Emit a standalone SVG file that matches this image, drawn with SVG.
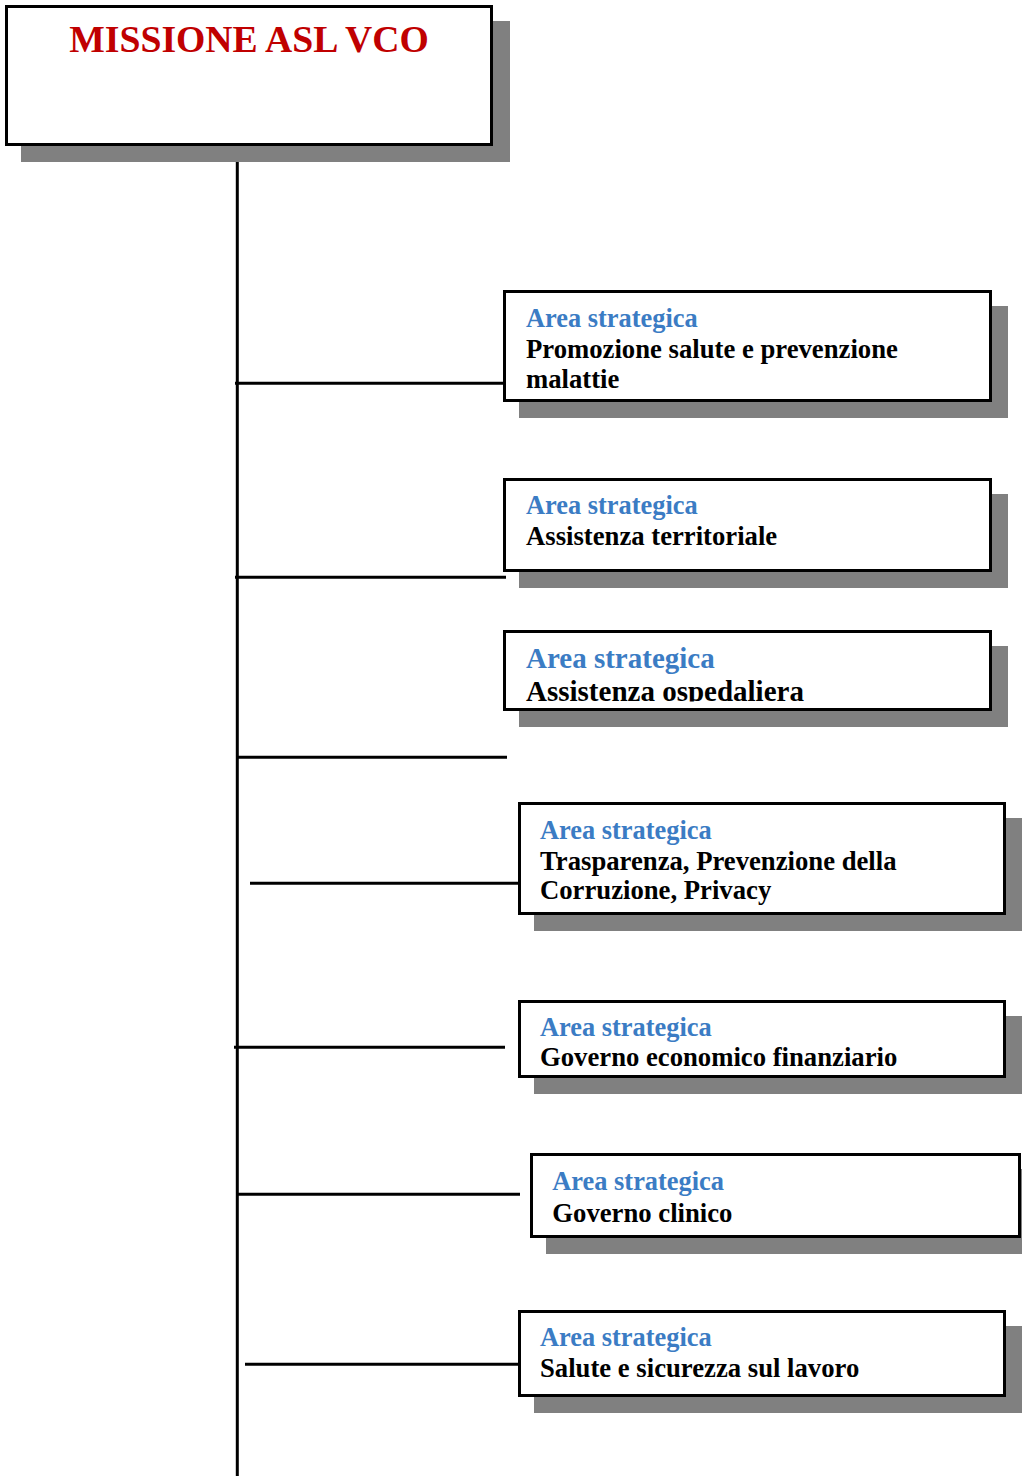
<svg xmlns="http://www.w3.org/2000/svg" width="1022" height="1476" viewBox="0 0 1022 1476">
<style>
.shadow{fill:#808080}
.box{fill:#fff;stroke:#000;stroke-width:3}
.conn{stroke:#000;stroke-width:3;fill:none}
.t{font-family:"Liberation Serif","Times New Roman",serif;font-weight:bold}
.blue{fill:#3B7CC4;font-size:26.4px}
.blk{fill:#000;font-size:26.7px}
.title{fill:#C00000;font-size:37.7px}
</style>
<defs>
<clipPath id="clip3"><rect x="505" y="632" width="485" height="69.5"/></clipPath>
</defs>
<g id="connectors">
<line class="conn" x1="237.3" y1="159" x2="237.3" y2="1476"/>
<line class="conn" x1="235" y1="383.3" x2="504" y2="383.3"/>
<line class="conn" x1="235" y1="577.3" x2="506" y2="577.3"/>
<line class="conn" x1="237" y1="757.3" x2="507" y2="757.3"/>
<line class="conn" x1="250" y1="883.3" x2="519" y2="883.3"/>
<line class="conn" x1="234" y1="1047.3" x2="505" y2="1047.3"/>
<line class="conn" x1="237" y1="1194.3" x2="520" y2="1194.3"/>
<line class="conn" x1="245" y1="1364.3" x2="519" y2="1364.3"/>
</g>
<g id="missione">
<rect class="shadow" x="21" y="21" width="489" height="141"/>
<rect class="box" x="6.5" y="6.5" width="485" height="138"/>
<text class="t title" x="249" y="52" text-anchor="middle">MISSIONE ASL VCO</text>
</g>
<g id="area1">
<rect class="shadow" x="519" y="306" width="489" height="112"/>
<rect class="box" x="504.5" y="291.5" width="486" height="109"/>
<text class="t blue" x="526" y="326.7">Area strategica</text>
<text class="t blk" x="526" y="358.3">Promozione salute e prevenzione</text>
<text class="t blk" x="526" y="387.5">malattie</text>
</g>
<g id="area2">
<rect class="shadow" x="519" y="494" width="489" height="94"/>
<rect class="box" x="504.5" y="479.5" width="486" height="91"/>
<text class="t blue" x="526" y="514">Area strategica</text>
<text class="t blk" x="526" y="544.5">Assistenza territoriale</text>
</g>
<g id="area3">
<rect class="shadow" x="519" y="646" width="489" height="81"/>
<rect class="box" x="504.5" y="631.5" width="486" height="78"/>
<text class="t blue" x="526" y="668.3" style="font-size:29px">Area strategica</text>
<text class="t blk" x="526" y="701" style="font-size:29px" clip-path="url(#clip3)">Assistenza ospedaliera</text>
</g>
<g id="area4">
<rect class="shadow" x="534" y="818" width="488" height="113"/>
<rect class="box" x="519.5" y="803.5" width="485" height="110"/>
<text class="t blue" x="540" y="839.3">Area strategica</text>
<text class="t blk" x="540" y="869.5">Trasparenza, Prevenzione della</text>
<text class="t blk" x="540" y="898.5">Corruzione, Privacy</text>
</g>
<g id="area5">
<rect class="shadow" x="534" y="1016" width="488" height="78"/>
<rect class="box" x="519.5" y="1001.5" width="485" height="75"/>
<text class="t blue" x="540" y="1035.7">Area strategica</text>
<text class="t blk" x="540" y="1066">Governo economico finanziario</text>
</g>
<g id="area6">
<rect class="shadow" x="546" y="1169" width="491" height="85"/>
<rect class="box" x="531.5" y="1154.5" width="488" height="82"/>
<text class="t blue" x="552.3" y="1190">Area strategica</text>
<text class="t blk" x="552.3" y="1221.5">Governo clinico</text>
</g>
<g id="area7">
<rect class="shadow" x="534" y="1326" width="488" height="87"/>
<rect class="box" x="519.5" y="1311.5" width="485" height="84"/>
<text class="t blue" x="540" y="1345.7">Area strategica</text>
<text class="t blk" x="540" y="1376.5">Salute e sicurezza sul lavoro</text>
</g>
</svg>
